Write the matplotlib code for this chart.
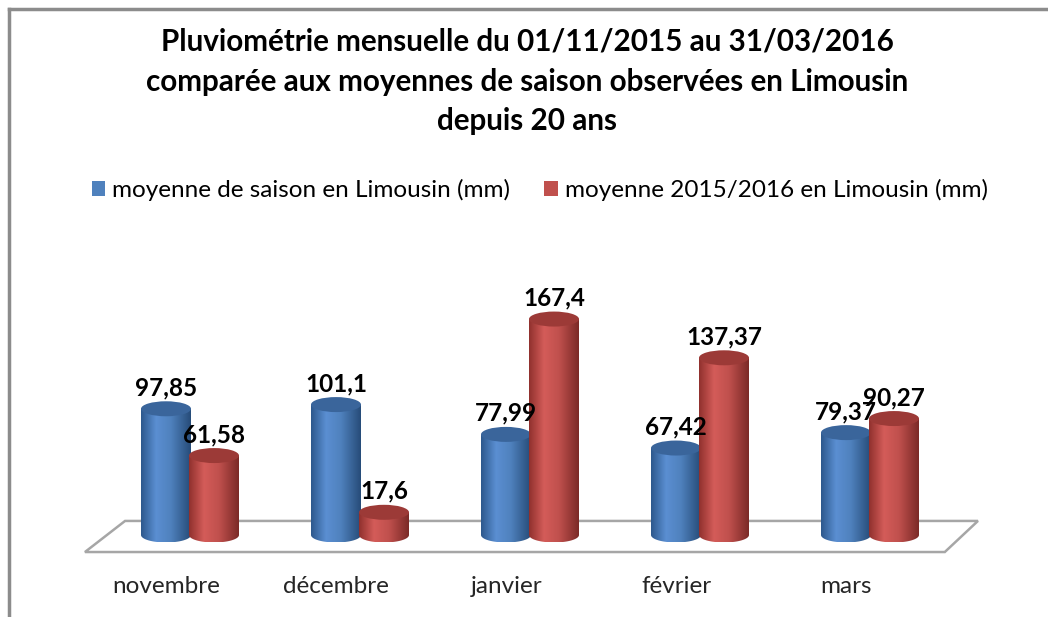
import matplotlib
matplotlib.use('Agg')
import matplotlib.pyplot as plt
import numpy as np
from matplotlib.patches import Ellipse, Polygon, PathPatch, Patch
from matplotlib.path import Path
from matplotlib.lines import Line2D
from matplotlib.colors import to_rgb

plt.rcParams['font.family'] = ['Lato', 'DejaVu Sans']

# ------------------------------------------------------------
# Data
# ------------------------------------------------------------
months = ['novembre', 'décembre', 'janvier', 'février', 'mars']
saison = [97.85, 101.1, 77.99, 67.42, 79.37]      # moyenne de saison
annee = [61.58, 17.6, 167.4, 137.37, 90.27]       # moyenne 2015/2016
series_names = ['moyenne de saison en Limousin (mm)',
                'moyenne 2015/2016 en Limousin (mm)']
title = ('Pluviométrie mensuelle du 01/11/2015 au 31/03/2016\n'
         'comparée aux moyennes de saison observées en Limousin\n'
         'depuis 20 ans')

# colours: (dark edge, light, mid, top face)
BLUE = ('#2c5587', '#5b8fd2', '#4f81bd', '#3a659b')
RED = ('#8a2f2c', '#d45c59', '#c0504d', '#9c3a37')

# ------------------------------------------------------------
# Figure / axes (axes covers the whole figure, pseudo 3D drawn inside)
# ------------------------------------------------------------
W, H = 1048, 617
fig = plt.figure(figsize=(W / 100, H / 100), dpi=100)
ax = fig.add_axes([0, 0, 1, 1])
ax.set_axis_off()

px_per_cat = 170.0
px_per_mm = 1.29
x0_px, y0_px = 190.0, 535.0          # pixel position of category 0, value 0

bar_w = 50 / px_per_cat
ell_h = 15 / px_per_mm
offset = 24 / px_per_cat


def shade(colors, n=64):
    dark, light, mid, _ = [np.array(to_rgb(c)) for c in colors]
    t = np.linspace(0, 1, n)
    stops = [0.0, 0.3, 0.6, 1.0]
    cols = [dark * 1.05, light, mid, dark * 0.9]
    out = np.zeros((1, n, 3))
    for k in range(3):
        out[0, :, k] = np.interp(t, stops, [c[k] for c in cols])
    return np.clip(out, 0, 1)


def cylinder(xc, h, colors, z):
    theta = np.linspace(np.pi, 2 * np.pi, 60)
    bx = xc + bar_w / 2 * np.cos(theta)
    by = ell_h / 2 * np.sin(theta)
    verts = [(xc - bar_w / 2, h)] + list(zip(bx, by)) + [(xc + bar_w / 2, h), (xc - bar_w / 2, h)]
    body = PathPatch(Path(verts, closed=True), transform=ax.transData)
    im = ax.imshow(shade(colors), extent=[xc - bar_w / 2, xc + bar_w / 2, -ell_h / 2, h],
                   aspect='auto', interpolation='bilinear', zorder=z)
    im.set_clip_path(body)
    top = Ellipse((xc, h), bar_w, ell_h, facecolor=colors[3], edgecolor='none', zorder=z + 0.5)
    ax.add_patch(top)


# floor
floor = Polygon([(-0.618, -13.2), (4.44, -13.2), (4.635, 10.9), (-0.382, 10.9)],
                closed=True, facecolor='white', edgecolor='#a6a6a6', lw=1.8, zorder=0.2)
ax.add_patch(floor)

for i, (s, a) in enumerate(zip(saison, annee)):
    cylinder(i - offset, s, BLUE, 2 + 2 * i)
    cylinder(i + offset, a, RED, 3 + 2 * i)
    for xc, v in ((i - offset, s), (i + offset, a)):
        ax.text(xc, v + ell_h / 2 + 6 / px_per_mm, f'{v:g}'.replace('.', ','),
                ha='center', va='baseline', fontsize=17.5, fontweight='bold',
                color='black', zorder=20)
    ax.text(i - 0.14, -40, months[i], ha='center', va='center', fontsize=17.5,
            color='#262626')

ax.set_xlim(-x0_px / px_per_cat, (W - x0_px) / px_per_cat)
ax.set_ylim(-(H - y0_px) / px_per_mm, y0_px / px_per_mm)

# title
fig.text(0.503, 1 - 28 / H, title, ha='center', va='top', fontsize=21.3,
         fontweight='bold', linespacing=1.5)

# legend
handles = [Patch(facecolor=BLUE[2]), Patch(facecolor=RED[2])]
fig.legend(handles, series_names, loc='center', bbox_to_anchor=(0.515, 1 - 190 / H),
           ncol=2, frameon=False, fontsize=17.5, handlelength=0.55, handleheight=0.55,
           handletextpad=0.3, columnspacing=1.4)

# chart frame (top and left edges visible)
fig.add_artist(Line2D([9 / W, 1], [1 - 9 / H, 1 - 9 / H], transform=fig.transFigure,
                      color='#8c8c8c', lw=2.5))
fig.add_artist(Line2D([9 / W, 9 / W], [0, 1 - 9 / H], transform=fig.transFigure,
                      color='#8c8c8c', lw=2.5))

fig.savefig('out.png', dpi=100)
